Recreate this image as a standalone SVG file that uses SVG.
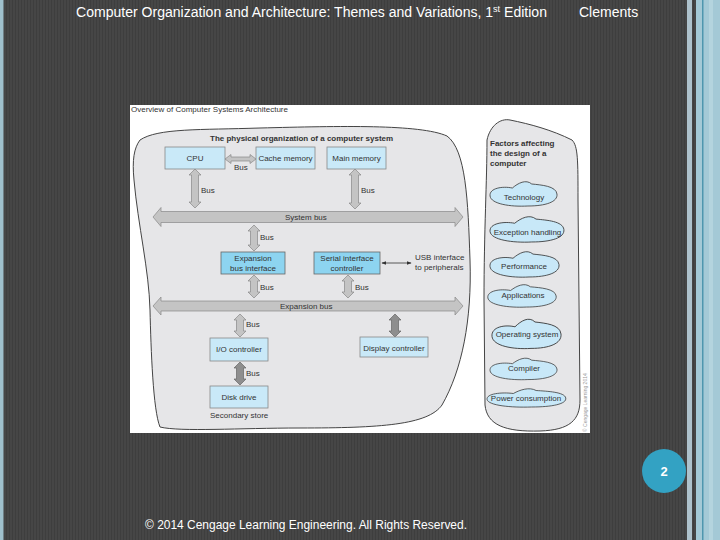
<svg xmlns="http://www.w3.org/2000/svg" xmlns:xlink="http://www.w3.org/1999/xlink" width="720" height="540" viewBox="0 0 720 540">
<defs>
<pattern id="stripes" width="3" height="4" patternUnits="userSpaceOnUse">
<rect width="3" height="4" fill="#464646"/>
<rect x="0" width="1" height="4" fill="#3e3e3e"/>
</pattern>
<path id="cloud" d="M -35 2 C -36 -6 -22 -8 -12 -6 C -6 -11 2 -15 8 -10 C 18 -9 33 -8 34 0 C 35 8 22 12 4 12 C -14 13 -34 10 -35 2 Z"/>
<marker id="ah" viewBox="0 0 8 8" refX="7" refY="4" markerWidth="6" markerHeight="6" orient="auto-start-reverse">
<path d="M0 1 L8 4 L0 7 Z" fill="#333"/>
</marker>
</defs>
<style>
.hdr{font-family:"Liberation Sans",Arial,sans-serif;fill:#ffffff}
.t{font-family:"Liberation Sans",Arial,sans-serif;font-size:8px;fill:#333}
.tc{text-anchor:middle}
.b{font-weight:bold}
.blob{fill:#e6e6e8;stroke:#444;stroke-width:1}
.box{fill:#c9e9f8;stroke:#888;stroke-width:0.8}
.box2{fill:#8dd4f0;stroke:#666;stroke-width:0.8}
.bus{fill:#c4c4c4;stroke:#888;stroke-width:0.7}
.busd{fill:#8e8e8e;stroke:#666;stroke-width:0.7}
.cl{fill:#c8e8f8;stroke:#333;stroke-width:0.8;vector-effect:non-scaling-stroke}
</style>
<rect width="720" height="540" fill="url(#stripes)"/>
<rect x="0" y="0" width="3.5" height="540" fill="#9fc0cc"/>
<rect x="687" y="0" width="5" height="540" fill="#aec2cc"/>
<rect x="696" y="0" width="24" height="540" fill="#a4c9d6"/>
<rect x="702" y="0" width="1.5" height="540" fill="#4e96ae"/>
<rect x="709" y="0" width="4" height="540" fill="#b4d4de"/>

<text class="hdr" x="76" y="17" font-size="14" textLength="471" lengthAdjust="spacingAndGlyphs">Computer Organization and Architecture: Themes and Variations, 1<tspan font-size="9" dy="-5">st</tspan><tspan dy="5"> Edition</tspan></text>
<text class="hdr" x="579" y="17" font-size="14">Clements</text>

<rect x="130" y="105" width="460" height="328" fill="#ffffff"/>
<text class="t" x="131" y="112" font-size="7.5">Overview of Computer Systems Architecture</text>
<text x="587" y="432" transform="rotate(-90 587 432)" font-family="Liberation Sans,Arial,sans-serif" font-size="5" fill="#9a9a9a">© Cengage Learning 2014</text>

<g id="physical">
<path class="blob" d="M 140 140 C 158 128 200 130 260 128 C 340 126 420 124 447 136 C 466 150 468 200 470 260 C 472 320 462 370 442 405 C 428 425 380 428 300 428 C 240 428 180 432 160 427 C 153 410 151 350 150 310 C 149 270 138 225 134 180 C 132 160 134 148 140 140 Z"/>
<text class="t b" x="210" y="141">The physical organization of a computer system</text>
</g>

<g id="connectors">
<path class="bus" d="M225 159 L231 154.5 L231 157 L250 157 L250 154.5 L256 159 L250 163.5 L250 161 L231 161 L231 163.5 Z"/>
<path class="bus" d="M195 169 L201 175 L198.5 175 L198.5 202 L201 202 L195 208 L189 202 L191.5 202 L191.5 175 L189 175 Z"/>
<path class="bus" d="M355 169 L361 175 L358.5 175 L358.5 203 L361 203 L355 209 L349 203 L351.5 203 L351.5 175 L349 175 Z"/>
<path class="bus" d="M153 217 L161 207.5 L161 211.5 L455 211.5 L455 207.5 L463 217 L455 226.5 L455 222.5 L161 222.5 L161 226.5 Z"/>
<path class="bus" d="M254 225 L260 231 L257.5 231 L257.5 245 L260 245 L254 251 L248 245 L250.5 245 L250.5 231 L248 231 Z"/>
<path class="bus" d="M254 275 L260 281 L257.5 281 L257.5 292 L260 292 L254 298 L248 292 L250.5 292 L250.5 281 L248 281 Z"/>
<path class="bus" d="M348 275 L354 281 L351.5 281 L351.5 292 L354 292 L348 298 L342 292 L344.5 292 L344.5 281 L342 281 Z"/>
<path class="bus" d="M153 306 L161 297 L161 301 L455 301 L455 297 L463 306 L455 315 L455 311 L161 311 L161 315 Z"/>
<path class="bus" d="M240 314 L246 320 L243.5 320 L243.5 331 L246 331 L240 337 L234 331 L236.5 331 L236.5 320 L234 320 Z"/>
<path class="busd" d="M240 362 L246 368 L243.5 368 L243.5 379 L246 379 L240 385 L234 379 L236.5 379 L236.5 368 L234 368 Z"/>
<path class="busd" d="M395 314 L401 320 L398.5 320 L398.5 331 L401 331 L395 337 L389 331 L391.5 331 L391.5 320 L389 320 Z"/>
<line x1="382" y1="263" x2="411" y2="263" stroke="#333" stroke-width="0.8" marker-start="url(#ah)" marker-end="url(#ah)"/>
<text class="t" x="234" y="170">Bus</text>
<text class="t" x="201" y="193">Bus</text>
<text class="t" x="361" y="193">Bus</text>
<text class="t" x="285" y="219.5">System bus</text>
<text class="t" x="260" y="240">Bus</text>
<text class="t" x="260" y="290">Bus</text>
<text class="t" x="355" y="290">Bus</text>
<text class="t" x="280" y="309">Expansion bus</text>
<text class="t" x="246" y="327">Bus</text>
<text class="t" x="246" y="376">Bus</text>
</g>

<g id="cpu"><rect class="box" x="165" y="147" width="60" height="22"/><text class="t tc" x="195" y="161">CPU</text></g>
<g id="cache"><rect class="box" x="256" y="147" width="59" height="22"/><text class="t tc" x="285.5" y="161">Cache memory</text></g>
<g id="mainmem"><rect class="box" x="327" y="147" width="59" height="22"/><text class="t tc" x="356.5" y="161">Main memory</text></g>
<g id="expif"><rect class="box2" x="221" y="252" width="64" height="22"/><text class="t tc" x="253" y="261">Expansion</text><text class="t tc" x="253" y="271">bus interface</text></g>
<g id="serial"><rect class="box2" x="314" y="252" width="66" height="22"/><text class="t tc" x="347" y="261">Serial interface</text><text class="t tc" x="347" y="271">controller</text></g>
<g id="usb"><text class="t" x="415" y="260">USB interface</text><text class="t" x="415" y="270">to peripherals</text></g>
<g id="io"><rect class="box" x="210" y="338" width="58" height="23"/><text class="t tc" x="239" y="352">I/O controller</text></g>
<g id="disk"><rect class="box" x="210" y="386" width="58" height="22"/><text class="t tc" x="239" y="400">Disk drive</text><text class="t" x="210" y="418">Secondary store</text></g>
<g id="display"><rect class="box" x="360" y="337" width="68" height="20"/><text class="t tc" x="394" y="350.5">Display controller</text></g>

<g id="factors">
<path class="blob" d="M 487 140 C 490 126 500 118 510 120 C 530 124 552 130 572 140 C 578 146 578 160 578 200 L 580 400 C 580 420 570 430 540 431 C 505 432 487 425 485 405 L 484 300 C 484 230 487 180 487 140 Z"/>
<text class="t b" x="490" y="146" font-size="7.5">Factors affecting</text>
<text class="t b" x="490" y="156" font-size="7.5">the design of a</text>
<text class="t b" x="490" y="166" font-size="7.5">computer</text>
</g>
<g id="technology"><use xlink:href="#cloud" class="cl" transform="translate(524 194) scale(0.97 1)"/><text class="t tc" x="524" y="200" font-size="7.5">Technology</text></g>
<g id="exception"><use xlink:href="#cloud" class="cl" transform="translate(527.5 229.5) scale(1.07 1.04)"/><text class="t tc" x="527.5" y="235" font-size="7.5">Exception handling</text></g>
<g id="performance"><use xlink:href="#cloud" class="cl" transform="translate(525 264.5) scale(1 1.04)"/><text class="t tc" x="524" y="269" font-size="7.5">Performance</text></g>
<g id="applications"><use xlink:href="#cloud" class="cl" transform="translate(522.5 296) scale(0.99 0.92)"/><text class="t tc" x="523" y="298" font-size="7.5">Applications</text></g>
<g id="os"><use xlink:href="#cloud" class="cl" transform="translate(527 334) scale(1 1.2)"/><text class="t tc" x="527" y="336.5" font-size="7.5">Operating system</text></g>
<g id="compiler"><use xlink:href="#cloud" class="cl" transform="translate(524 369) scale(0.97 0.88)"/><text class="t tc" x="524" y="370.5" font-size="7.5">Compiler</text></g>
<g id="power"><use xlink:href="#cloud" class="cl" transform="translate(527 398) scale(1.14 0.75)"/><text class="t tc" x="526" y="400.5" font-size="7.5">Power consumption</text></g>

<g id="pagenum"><circle cx="664" cy="471" r="22" fill="#33a2c3"/><text x="664" y="476" text-anchor="middle" font-family="Liberation Sans,Arial,sans-serif" font-size="13" font-weight="bold" fill="#ffffff">2</text></g>
<text class="hdr" x="145" y="529" font-size="12" textLength="322" lengthAdjust="spacingAndGlyphs">© 2014 Cengage Learning Engineering. All Rights Reserved.</text>
</svg>
